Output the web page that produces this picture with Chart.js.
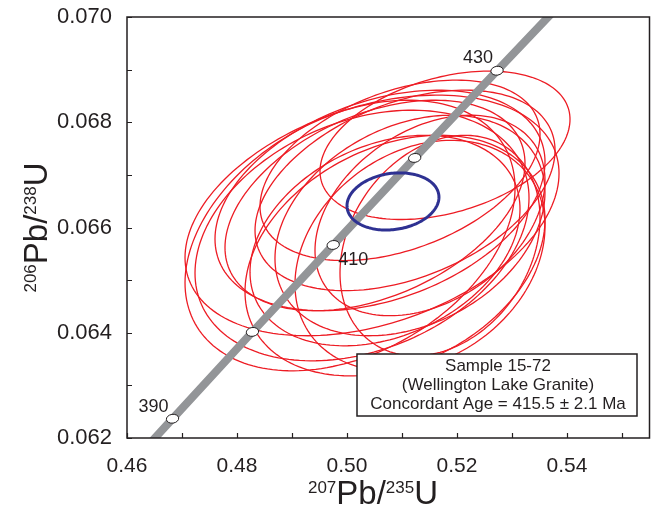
<!DOCTYPE html>
<html><head><meta charset="utf-8">
<script src="https://cdn.jsdelivr.net/npm/chart.js@4/dist/chart.umd.min.js"></script>
<style>html,body{margin:0;padding:0;background:#fff}#wrap{width:652px;height:510px}</style>
</head><body><div id="wrap"><canvas id="c" width="652" height="510"></canvas></div>
<script>
// ---- axis ticks ----
const xTicks = [0.46, 0.48, 0.50, 0.52, 0.54];
const xTickLabels = ['0.46', '0.48', '0.50', '0.52', '0.54'];
const xMinor = [0.47, 0.49, 0.51, 0.53, 0.55];
const yTicks = [0.062, 0.064, 0.066, 0.068, 0.070];
const yTickLabels = ['0.062', '0.064', '0.066', '0.068', '0.070'];
const yMinor = [0.063, 0.065, 0.067, 0.069];

// ---- concordia curve (age in Ma, 207Pb/235U, 206Pb/238U) ----
const concAge = [385, 390, 400, 410, 420, 430, 440];
const concX = [0.46107, 0.46828, 0.48281, 0.49749, 0.51231, 0.52728, 0.54239];
const concY = [0.061543, 0.062366, 0.064016, 0.065668, 0.067322, 0.068979, 0.070638];
const markerAges = [390, 400, 410, 420, 430];
const labelAges = [390, 410, 430];

// ---- individual analyses: error ellipses (centre, half-widths, correlation) ----
const ellX   = [0.51782, 0.50455, 0.50273, 0.50055, 0.50600, 0.51055, 0.51145, 0.50873, 0.51327, 0.50964, 0.51509, 0.50691, 0.51691, 0.50509];
const ellY   = [0.067562, 0.066229, 0.065848, 0.065848, 0.066514, 0.066705, 0.066038, 0.065467, 0.065467, 0.067086, 0.066229, 0.065752, 0.065657, 0.066419];
const ellSX  = [0.022727, 0.034000, 0.030364, 0.030000, 0.030000, 0.027273, 0.024545, 0.027273, 0.022727, 0.025455, 0.020909, 0.024545, 0.018182, 0.027273];
const ellSY  = [0.001410, 0.002286, 0.002381, 0.002571, 0.002095, 0.001905, 0.002095, 0.002286, 0.002190, 0.001714, 0.001905, 0.002000, 0.002095, 0.002000];
const ellRho = [0.35, 0.35, 0.30, 0.35, 0.35, 0.40, 0.30, 0.30, 0.25, 0.40, 0.35, 0.30, 0.25, 0.40];

// ---- concordant age ellipse ----
const meanX = [0.50836];
const meanY = [0.066495];
const meanSX = [0.00836];
const meanSY = [0.000543];
const meanRho = [0.15];

const legendLines = ['Sample 15-72', '(Wellington Lake Granite)', 'Concordant Age = 415.5 \u00B1 2.1 Ma'];

const FONT = "'Liberation Sans', Arial, Helvetica, sans-serif";
const INK = '#231f20';

function idx(age){ return concAge.indexOf(age); }

function drawEllipse(ctx, xs, ys, cx, cy, sx, sy, rho){
  const n = 180, k = Math.sqrt(1 - rho*rho);
  ctx.beginPath();
  for (let i = 0; i <= n; i++){
    const t = 2*Math.PI*i/n;
    const x = cx + sx*Math.cos(t);
    const y = cy + sy*(rho*Math.cos(t) + k*Math.sin(t));
    const px = xs.getPixelForValue(x), py = ys.getPixelForValue(y);
    if (i === 0) ctx.moveTo(px, py); else ctx.lineTo(px, py);
  }
  ctx.closePath();
  ctx.stroke();
}

function drawSupText(ctx, parts, cx, baseline){
  const big = 'normal 33px ' + FONT, sup = 'normal 17px ' + FONT;
  let w = 0;
  parts.forEach(p => { ctx.font = p[1] ? sup : big; w += ctx.measureText(p[0]).width; });
  let x = cx - w/2;
  ctx.textAlign = 'left';
  ctx.textBaseline = 'alphabetic';
  parts.forEach(p => {
    ctx.font = p[1] ? sup : big;
    ctx.fillText(p[0], x, p[1] ? baseline - 11 : baseline);
    x += ctx.measureText(p[0]).width;
  });
}

const concPlugin = {
  id: 'conc',
  beforeDatasetsDraw(chart){
    const {ctx, chartArea: a, scales: {x, y}} = chart;
    ctx.save();
    ctx.beginPath(); ctx.rect(a.left, a.top, a.right - a.left, a.bottom - a.top); ctx.clip();
    ctx.strokeStyle = '#ed1c24';
    ctx.lineWidth = 1.3;
    for (let i = 0; i < ellX.length; i++) drawEllipse(ctx, x, y, ellX[i], ellY[i], ellSX[i], ellSY[i], ellRho[i]);
    ctx.restore();
  },
  afterDatasetsDraw(chart){
    const {ctx, chartArea: a, scales: {x, y}} = chart;
    ctx.save();
    ctx.beginPath(); ctx.rect(a.left, a.top, a.right - a.left, a.bottom - a.top); ctx.clip();
    ctx.strokeStyle = '#2e3192';
    ctx.lineWidth = 3;
    for (let i = 0; i < meanX.length; i++) drawEllipse(ctx, x, y, meanX[i], meanY[i], meanSX[i], meanSY[i], meanRho[i]);
    markerAges.forEach(age => {
      const j = idx(age);
      const px = x.getPixelForValue(concX[j]), py = y.getPixelForValue(concY[j]);
      ctx.beginPath();
      ctx.ellipse(px, py, 6.2, 4.4, -0.15, 0, 2*Math.PI);
      ctx.fillStyle = '#ffffff'; ctx.fill();
      ctx.strokeStyle = INK; ctx.lineWidth = 1; ctx.stroke();
    });
    ctx.restore();
    ctx.save();
    ctx.fillStyle = INK;
    ctx.font = 'normal 18px ' + FONT;
    ctx.textBaseline = 'alphabetic';
    labelAges.forEach(age => {
      const j = idx(age);
      const px = x.getPixelForValue(concX[j]), py = y.getPixelForValue(concY[j]);
      let tx, ty;
      if (age === 390){ ctx.textAlign = 'right'; tx = px - 4; ty = py - 7; }
      else if (age === 410){ ctx.textAlign = 'left'; tx = px + 5; ty = py + 20; }
      else { ctx.textAlign = 'right'; tx = px - 4; ty = py - 8; }
      ctx.fillText(String(age), tx, ty);
    });
    const bx = 357, by = 354, bw = 280, bh = 62;
    ctx.fillStyle = '#ffffff';
    ctx.fillRect(bx, by, bw, bh);
    ctx.strokeStyle = INK; ctx.lineWidth = 1.5;
    ctx.strokeRect(bx, by, bw, bh);
    ctx.fillStyle = INK;
    ctx.textAlign = 'center';
    ctx.font = 'normal 17px ' + FONT;
    legendLines.forEach((t, i) => ctx.fillText(t, bx + bw/2 + 1, by + 17 + i*19));
    ctx.strokeStyle = INK; ctx.lineWidth = 1.5;
    ctx.strokeRect(a.left, a.top, a.right - a.left, a.bottom - a.top);
    ctx.lineWidth = 1.2;
    ctx.beginPath();
    xTicks.concat(xMinor).forEach(v => {
      const px = Math.round(x.getPixelForValue(v)) + 0.5;
      ctx.moveTo(px, a.bottom); ctx.lineTo(px, a.bottom - 5);
    });
    yTicks.concat(yMinor).forEach(v => {
      const py = Math.round(y.getPixelForValue(v)) + 0.5;
      ctx.moveTo(a.left, py); ctx.lineTo(a.left + 5, py);
    });
    ctx.stroke();
    ctx.restore();
  },
  afterDraw(chart){
    const {ctx} = chart;
    ctx.save();
    ctx.fillStyle = INK;
    drawSupText(ctx, [['207', true], ['Pb/', false], ['235', true], ['U', false]], 373, 504);
    ctx.translate(47, 227.5);
    ctx.rotate(-Math.PI/2);
    drawSupText(ctx, [['206', true], ['Pb/', false], ['238', true], ['U', false]], 0, 0);
    ctx.restore();
  }
};

new Chart(document.getElementById('c'), {
  type: 'scatter',
  data: {
    datasets: [{
      label: 'Concordia',
      data: concAge.map((a, i) => ({x: concX[i], y: concY[i]})),
      showLine: true,
      borderColor: '#939598',
      borderWidth: 8,
      pointRadius: 0,
      tension: 0,
      fill: false
    }]
  },
  options: {
    responsive: false,
    devicePixelRatio: 1,
    animation: false,
    layout: {padding: {top: 17, right: 2.5, left: 0, bottom: 0}},
    plugins: {legend: {display: false}, tooltip: {enabled: false}},
    scales: {
      x: {
        type: 'linear', min: 0.46, max: 0.555,
        afterBuildTicks: s => { s.ticks = xTicks.map(v => ({value: v})); },
        afterFit: s => { s.height = 72; s.paddingLeft = 0; s.paddingRight = 0; },
        ticks: {callback: (v, i) => xTickLabels[i], font: {family: FONT, size: 21}, color: INK, padding: 8, maxRotation: 0, autoSkip: false},
        grid: {display: false}, border: {display: false}
      },
      y: {
        type: 'linear', min: 0.062, max: 0.070,
        afterBuildTicks: s => { s.ticks = yTicks.map(v => ({value: v})); },
        afterFit: s => { s.width = 127; s.paddingTop = 0; s.paddingBottom = 0; },
        ticks: {callback: (v, i) => yTickLabels[i], font: {family: FONT, size: 22}, color: INK, padding: 7, autoSkip: false},
        grid: {display: false}, border: {display: false}
      }
    }
  },
  plugins: [concPlugin]
});
</script></body></html>
